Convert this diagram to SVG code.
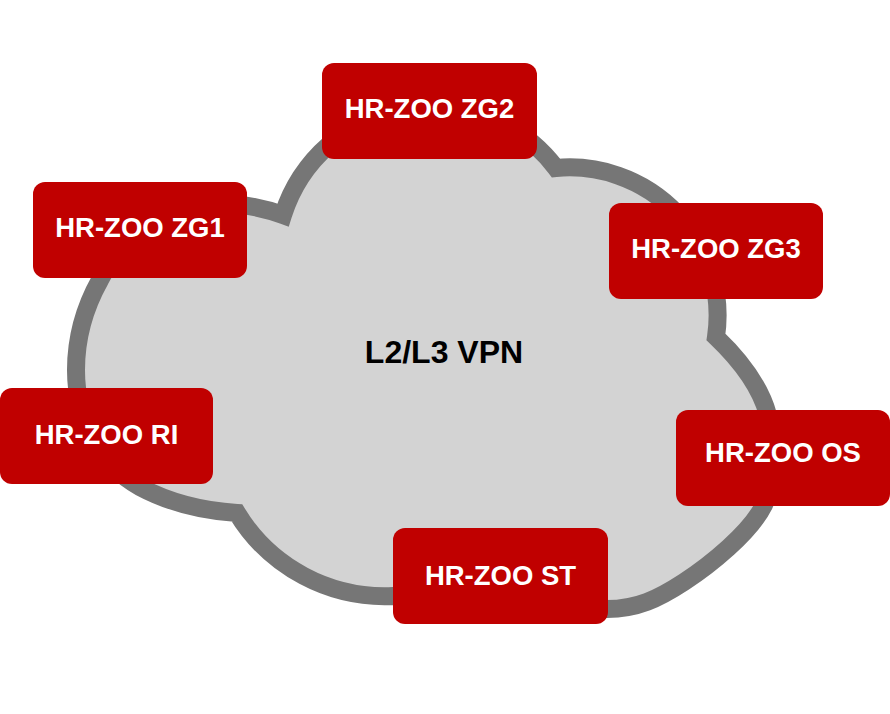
<svg xmlns="http://www.w3.org/2000/svg" width="890" height="714" viewBox="0 0 890 714">
<style>
.box{fill:#C00000}
.lbl{font-family:"Liberation Sans",Arial,sans-serif;font-weight:bold;font-size:27.5px;fill:#FFFFFF;text-anchor:middle}
.cloud{fill:#D3D3D3;stroke:#767676;stroke-width:18;stroke-linejoin:miter}
.title{font-family:"Liberation Sans",Arial,sans-serif;font-weight:bold;font-size:32px;fill:#000000;text-anchor:middle}
</style>
<rect width="890" height="714" fill="#FFFFFF"/>
<g id="cloud">
<path class="cloud" d="M 283,215 A 156 156 0 0 1 556,168 A 148 148 0 0 1 716,337 C 738,358 760,385 768,415 C 776,443 778,477 764,505 C 750,533 710,565 684,582 C 658,599 637,609 607,609 C 560,612 440,606 393,596 A 173 173 0 0 1 237,513 C 205,511 170,503 140,487 C 100,465 76,420 76,370 C 76,335 86,305 100,280 C 115,250 140,215 170,205 C 200,198 250,203 283,215 Z"/>
<text class="title" x="444" y="363">L2/L3 VPN</text>
</g>
<g id="connectors"></g>
<g id="zg2"><rect class="box" x="322" y="63" width="215" height="96" rx="12"/><text class="lbl" x="429.5" y="118">HR-ZOO ZG2</text></g>
<g id="zg1"><rect class="box" x="33" y="182" width="214" height="96" rx="12"/><text class="lbl" x="140" y="237">HR-ZOO ZG1</text></g>
<g id="zg3"><rect class="box" x="609" y="203" width="214" height="96" rx="12"/><text class="lbl" x="716" y="258">HR-ZOO ZG3</text></g>
<g id="ri"><rect class="box" x="0" y="388" width="213" height="96" rx="12"/><text class="lbl" x="106.5" y="444">HR-ZOO RI</text></g>
<g id="os"><rect class="box" x="676" y="410" width="214" height="96" rx="12"/><text class="lbl" x="783" y="462">HR-ZOO OS</text></g>
<g id="st"><rect class="box" x="393" y="528" width="215" height="96" rx="12"/><text class="lbl" x="500.5" y="585">HR-ZOO ST</text></g>
</svg>
